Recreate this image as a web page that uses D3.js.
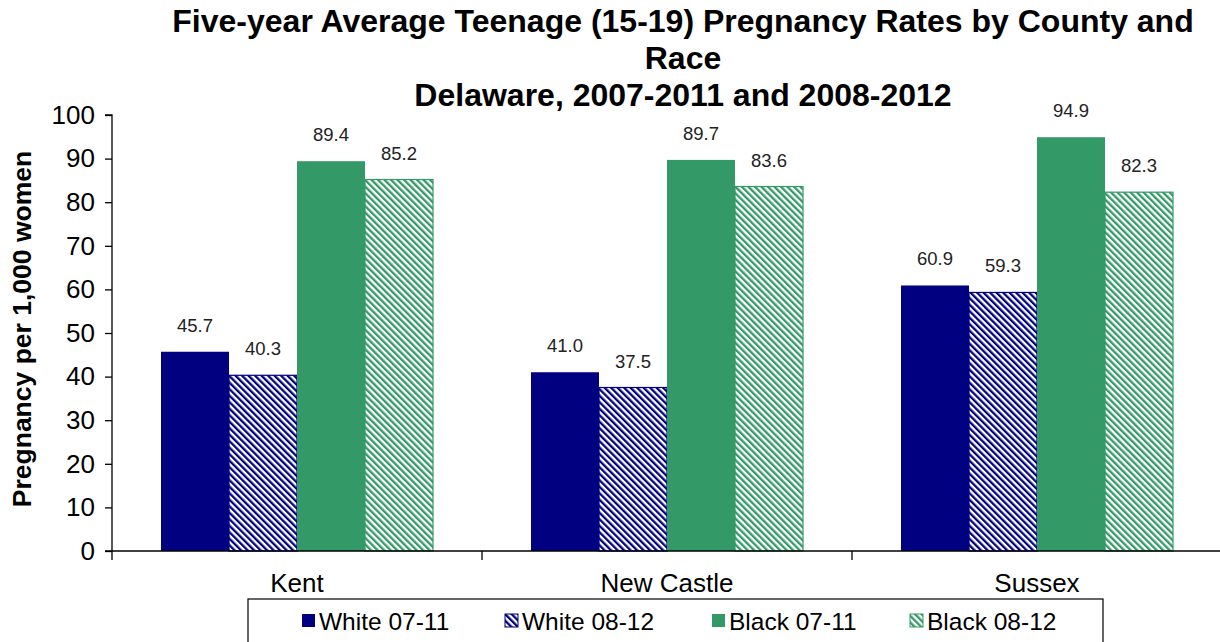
<!DOCTYPE html>
<html><head><meta charset="utf-8">
<script src="https://cdn.jsdelivr.net/npm/d3@7"></script>
<style>body{margin:0;background:#fff}svg{display:block}text{font-family:"Liberation Sans",Arial,sans-serif}</style>
</head><body><svg id="c" width="1220" height="642"></svg>
<script>
const counties = ["Kent","New Castle","Sussex"];
const seriesNames = ["White 07-11","White 08-12","Black 07-11","Black 08-12"];
const white0711 = [45.7, 41.0, 60.9];
const white0812 = [40.3, 37.5, 59.3];
const black0711 = [89.4, 89.7, 94.9];
const black0812 = [85.2, 83.6, 82.3];
const yTicks = [0,10,20,30,40,50,60,70,80,90,100];
const titleLines = ["Five-year Average Teenage (15-19) Pregnancy Rates by County and","Race","Delaware, 2007-2011 and 2008-2012"];
const yTitle = "Pregnancy per 1,000 women";

(function(){
const seriesValues = [white0711, white0812, black0711, black0812];
const colors = ["#000080","#000080","#339966","#339966"];
const hatched = [false,true,false,true];

const svg = d3.select("#c");
const defs = svg.append("defs");
["navy","green"].forEach((n,i)=>{
  const col = i===0 ? "#000080" : "#339966";
  const p = defs.append("pattern").attr("id","hatch-"+n).attr("patternUnits","userSpaceOnUse")
    .attr("width",4.6).attr("height",10).attr("patternTransform","rotate(-45)");
  p.append("rect").attr("width",4.6).attr("height",10).attr("fill","#fff");
  p.append("rect").attr("width",2.3).attr("height",10).attr("fill",col);
});
const fills = ["#000080","url(#hatch-navy)","#339966","url(#hatch-green)"];

const pl = 112, pr = 1222, pt = 115, pb = 551;
const x0 = d3.scaleBand().domain(counties).range([pl,pr]).padding(0);
const x1 = d3.scaleBand().domain(seriesNames).range([49, x0.bandwidth()-49]).padding(0);
const y = d3.scaleLinear().domain([0,100]).range([pb, pt]);

const tt = svg.append("text").attr("text-anchor","middle").attr("font-weight","bold").attr("font-size",32).attr("fill","#000");
titleLines.forEach((l,i)=> tt.append("tspan").attr("x",683).attr("y",32+i*37).text(l));

counties.forEach((c,ci)=>{
  const g = svg.append("g").attr("transform",`translate(${x0(c)},0)`);
  seriesNames.forEach((s,si)=>{
    const v = seriesValues[si][ci];
    g.append("rect").attr("x",x1(s)).attr("y",y(v)).attr("width",x1.bandwidth()).attr("height",y(0)-y(v))
      .attr("fill",fills[si]).attr("stroke",hatched[si]?colors[si]:"none").attr("stroke-width",hatched[si]?1.2:0);
    g.append("text").attr("x",x1(s)+x1.bandwidth()/2).attr("y",y(v)-20).attr("text-anchor","middle")
      .attr("font-size",18.5).attr("fill","#222").text(v.toFixed(1));
  });
});

const ya = svg.append("g").attr("transform",`translate(${pl},0)`)
  .call(d3.axisLeft(y).tickValues(yTicks).tickSize(7).tickPadding(10).tickFormat(d3.format("d")));
ya.select(".domain").attr("stroke","#000").attr("stroke-width",1.3).attr("d",`M-7,${pt}H0V${pb+9}`);
ya.selectAll(".tick line").attr("stroke","#000").attr("stroke-width",1.3);
ya.selectAll(".tick text").attr("font-size",26).attr("fill","#000").attr("font-family","Liberation Sans, Arial, sans-serif");

svg.append("line").attr("x1",pl-7).attr("x2",pr).attr("y1",pb).attr("y2",pb).attr("stroke","#000").attr("stroke-width",1.3);
[x0("New Castle"), x0("Sussex")].forEach(xx=>{
  svg.append("line").attr("x1",xx).attr("x2",xx).attr("y1",pb).attr("y2",pb+9).attr("stroke","#000").attr("stroke-width",1.3);
});
counties.forEach(c=>{
  svg.append("text").attr("x",x0(c)+x0.bandwidth()/2).attr("y",592).attr("text-anchor","middle")
    .attr("font-size",26).attr("fill","#000").text(c);
});

svg.append("text").attr("transform","translate(31,329) rotate(-90)").attr("text-anchor","middle")
  .attr("font-weight","bold").attr("font-size",26.5).attr("fill","#000").text(yTitle);

svg.append("rect").attr("x",248).attr("y",599).attr("width",855).attr("height",60).attr("fill","#fff").attr("stroke","#000").attr("stroke-width",1.2);
const legX = [302, 505, 712, 910];
seriesNames.forEach((s,i)=>{
  svg.append("rect").attr("x",legX[i]).attr("y",614).attr("width",13).attr("height",13)
    .attr("fill",fills[i]).attr("stroke",hatched[i]?colors[i]:"none").attr("stroke-width",1);
  svg.append("text").attr("x",legX[i]+17).attr("y",630).attr("font-size",24.5).attr("fill","#000").text(s);
});
})();
</script></body></html>
